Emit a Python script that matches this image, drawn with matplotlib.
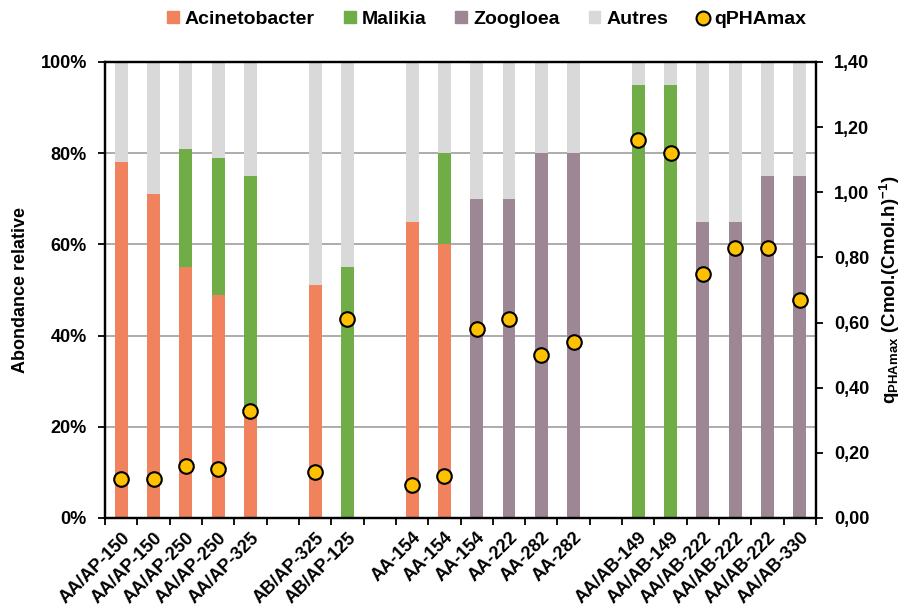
import numpy as np
import matplotlib
matplotlib.use('Agg')
import matplotlib.pyplot as plt
from matplotlib.lines import Line2D
from matplotlib.patches import Patch

plt.rcParams['font.family'] = ['Liberation Sans', 'DejaVu Sans']
plt.rcParams['font.weight'] = 'bold'
plt.rcParams['mathtext.fontset'] = 'custom'
plt.rcParams['mathtext.rm'] = 'Liberation Sans:bold'
plt.rcParams['mathtext.bf'] = 'Liberation Sans:bold'
plt.rcParams['mathtext.default'] = 'bf'

# empty labels are spacer slots between groups
labels = ['AA/AP-150', 'AA/AP-150', 'AA/AP-250', 'AA/AP-250', 'AA/AP-325', '',
          'AB/AP-325', 'AB/AP-125', '',
          'AA-154', 'AA-154', 'AA-154', 'AA-222', 'AA-282', 'AA-282', '',
          'AA/AB-149', 'AA/AB-149', 'AA/AB-222', 'AA/AB-222', 'AA/AB-222', 'AA/AB-330']
acinetobacter = [78, 71, 55, 49, 24, 0, 51, 0, 0, 65, 60, 0, 0, 0, 0, 0, 0, 0, 0, 0, 0, 0]
malikia = [0, 0, 26, 30, 51, 0, 0, 55, 0, 0, 20, 0, 0, 0, 0, 0, 95, 95, 0, 0, 0, 0]
zoogloea = [0, 0, 0, 0, 0, 0, 0, 0, 0, 0, 0, 70, 70, 80, 80, 0, 0, 0, 65, 65, 75, 75]
qpha = [0.12, 0.12, 0.16, 0.15, 0.33, np.nan, 0.14, 0.61, np.nan,
        0.10, 0.13, 0.58, 0.61, 0.50, 0.54, np.nan,
        1.16, 1.12, 0.75, 0.83, 0.83, 0.67]

acinetobacter = np.array(acinetobacter, float)
malikia = np.array(malikia, float)
zoogloea = np.array(zoogloea, float)
used = np.array([lab != '' for lab in labels])
autres = np.where(used, 100 - acinetobacter - malikia - zoogloea, 0)

c_acin = '#F0825E'
c_mal = '#70AD47'
c_zoo = '#9E8794'
c_aut = '#D9D9D9'
c_q = '#FFC000'

fig = plt.figure(figsize=(9.07, 6.12), dpi=100)
ax = fig.add_axes([0.1158, 0.1536, 0.7839, 0.7451])
x = np.arange(len(labels))
w = 0.4

ax.bar(x, acinetobacter, w, color=c_acin, zorder=2)
ax.bar(x, malikia, w, bottom=acinetobacter, color=c_mal, zorder=2)
ax.bar(x, zoogloea, w, bottom=acinetobacter + malikia, color=c_zoo, zorder=2)
ax.bar(x, autres, w, bottom=acinetobacter + malikia + zoogloea, color=c_aut, zorder=2)

ax.set_xlim(-0.5, len(labels) - 0.5)
ax.set_ylim(0, 100)
ax.set_yticks(np.arange(0, 101, 20))
ax.set_yticklabels([f'{v}%' for v in range(0, 101, 20)])
ax.yaxis.grid(True, color='#A6A6A6', linewidth=1.3, zorder=0)
ax.set_axisbelow(True)

ax.set_xticks(x)
ax.set_xticklabels(labels, rotation=45, ha='right', rotation_mode='anchor')
ax.tick_params(axis='x', length=0, pad=8, labelsize=13)
ax.set_xticks(np.arange(-0.5, len(labels), 1), minor=True)
ax.tick_params(axis='x', which='minor', length=5, width=1.3, direction='out')
ax.tick_params(axis='y', length=5, width=1.3, labelsize=13, pad=8)
for s in ax.spines.values():
    s.set_linewidth(1.6)
ax.set_ylabel('Abondance relative', fontsize=13, fontweight='bold', labelpad=8)

ax2 = ax.twinx()
ax2.scatter(x, qpha, s=110, color=c_q, edgecolor='black', linewidth=1.5, zorder=5)
ax2.set_ylim(0, 1.4)
ax2.set_yticks(np.arange(0, 1.41, 0.2))
ax2.set_yticklabels([f'{v:.2f}'.replace('.', ',') for v in np.arange(0, 1.41, 0.2)])
ax2.tick_params(axis='y', length=5, width=1.3, labelsize=13, pad=8)
for s in ax2.spines.values():
    s.set_linewidth(1.6)
ax2.set_ylabel(r'q$_{\mathrm{PHAmax}}$ (Cmol.(Cmol.h)$^{\mathrm{-1}}$)',
               fontsize=13.5, fontweight='bold', labelpad=6)

handles = [Patch(color=c_acin), Patch(color=c_mal), Patch(color=c_zoo), Patch(color=c_aut),
           Line2D([], [], marker='o', linestyle='', markerfacecolor=c_q,
                  markeredgecolor='black', markersize=10, markeredgewidth=1.5)]
names = ['Acinetobacter', 'Malikia', 'Zoogloea', 'Autres', 'qPHAmax']
fig.legend(handles, names, loc='center', bbox_to_anchor=(0.537, 0.968), ncol=5,
           frameon=False, fontsize=14, handlelength=0.6, handleheight=0.6,
           handletextpad=0.3, columnspacing=1.5)

fig.savefig('out.png', dpi=100)
